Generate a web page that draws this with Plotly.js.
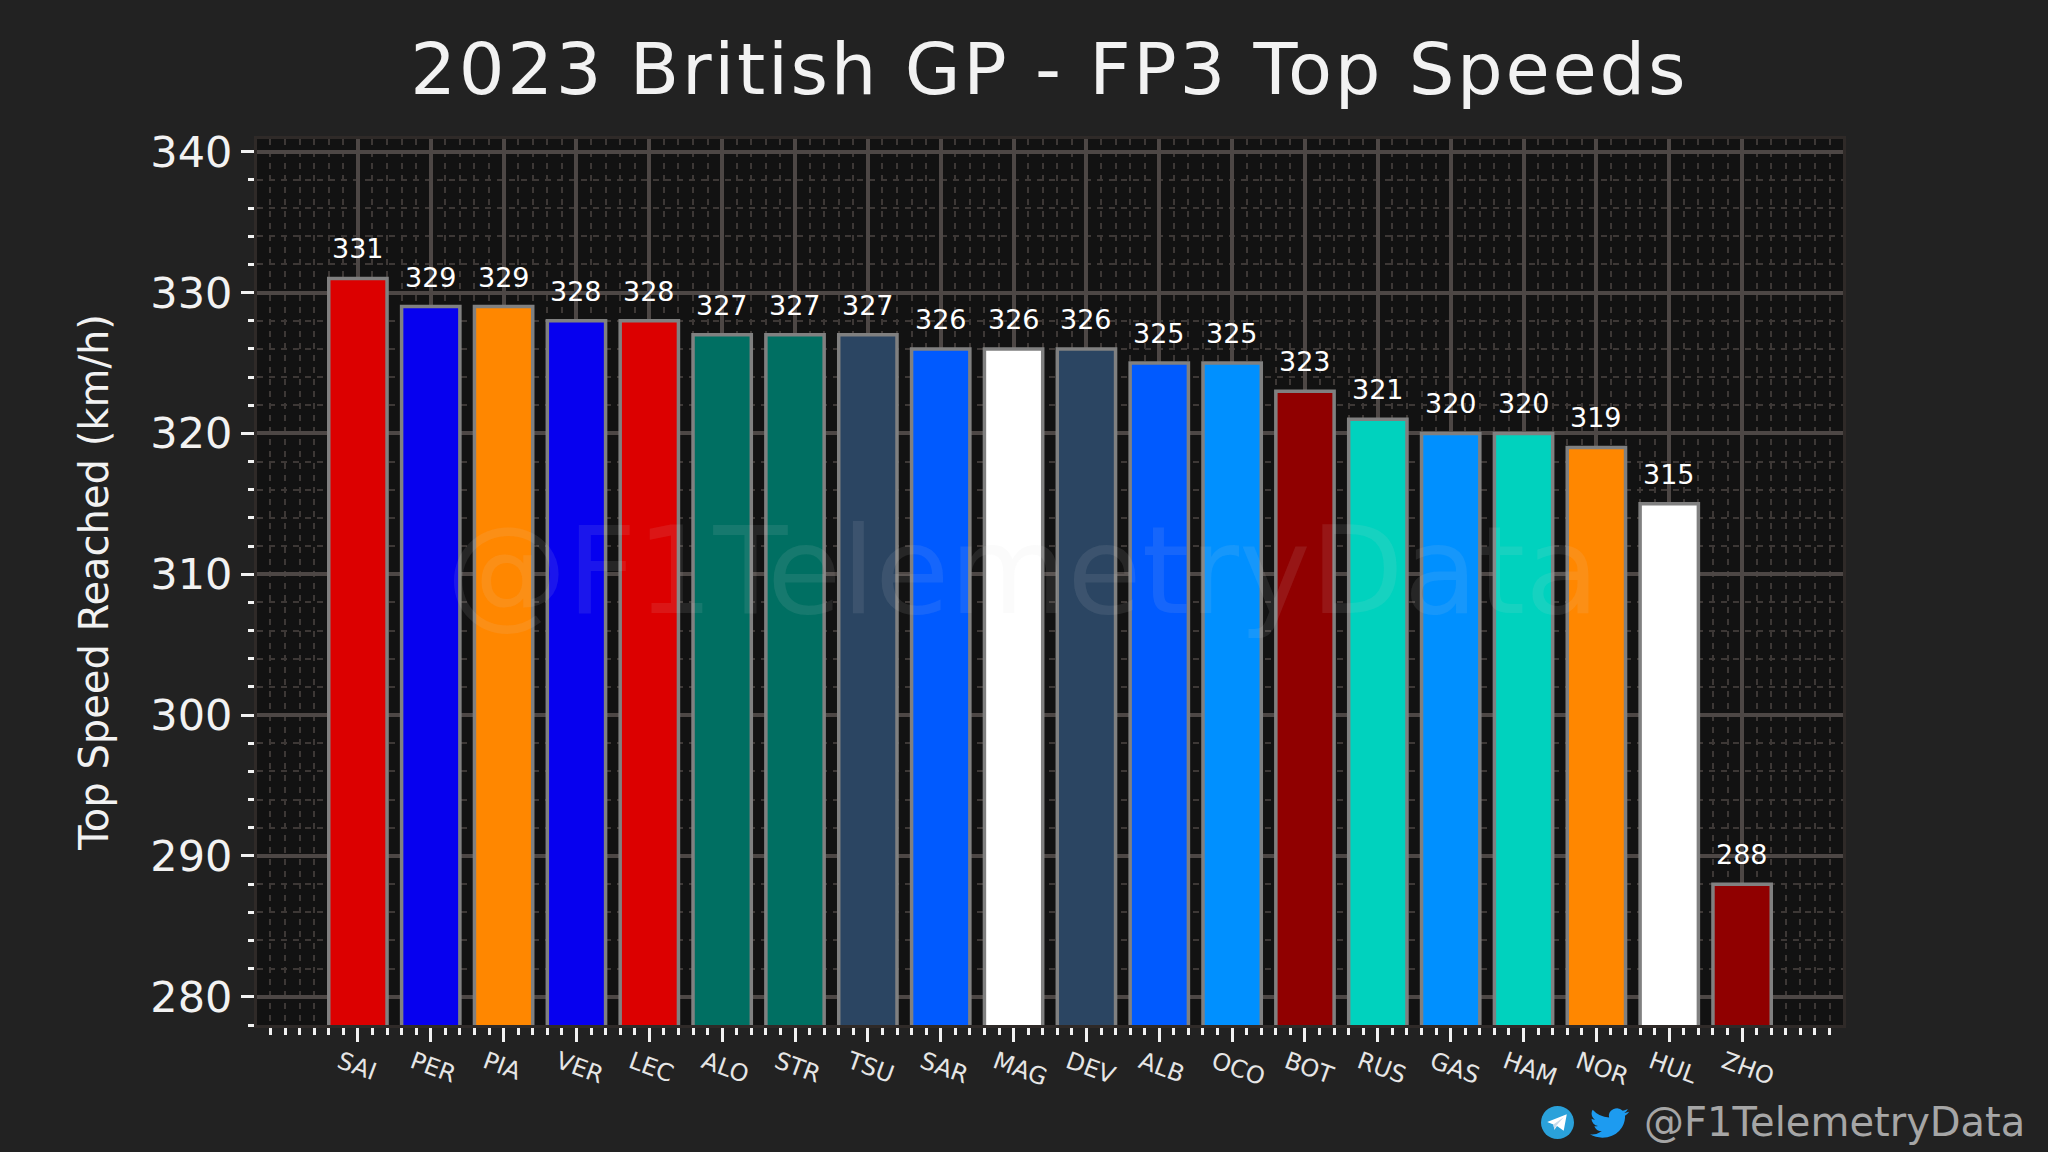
<!DOCTYPE html>
<html>
<head>
<meta charset="utf-8">
<script src="https://cdn.plot.ly/plotly-3.0.1.min.js"></script>
<style>
  html, body { margin: 0; padding: 0; background: #222222; }
  /* the original title font is much wider than anything installed */
  .gtitle { letter-spacing: 2.7px; }
</style>
</head>
<body>
<div id="chart" style="width:2048px;height:1152px;"></div>
<script>
// top speeds
const drivers = ["SAI", "PER", "PIA", "VER", "LEC", "ALO", "STR", "TSU", "SAR", "MAG", "DEV", "ALB", "OCO", "BOT", "RUS", "GAS", "HAM", "NOR", "HUL", "ZHO"];
const speeds = [331, 329, 329, 328, 328, 327, 327, 327, 326, 326, 326, 325, 325, 323, 321, 320, 320, 319, 315, 288];
const teamColors = ["#dc0000", "#0600ef", "#ff8700", "#0600ef", "#dc0000", "#006f62", "#006f62", "#2b4562", "#005aff", "#ffffff",
                    "#2b4562", "#005aff", "#0090ff", "#900000", "#00d2be", "#0090ff", "#00d2be", "#ff8700", "#ffffff", "#900000"];
const positions = drivers.map((d, i) => i);
const yTicks = [280, 290, 300, 310, 320, 330, 340];

const fontName = "DejaVu Sans";

// small logos bottom right
const telegramIcon = "data:image/svg+xml;utf8," + encodeURIComponent(
  '<svg xmlns="http://www.w3.org/2000/svg" viewBox="0 0 32 32">' +
  '<circle cx="16" cy="16" r="16" fill="#2aa1da"/>' +
  '<path d="M6 15.5 L25 8 L22 24 L15.5 19.5 L13 23 L12 18 Z" fill="#ffffff"/>' +
  '<path d="M12 18 L22 11 L15 19 L13 23 Z" fill="#c8daea"/></svg>');
const twitterIcon = "data:image/svg+xml;utf8," + encodeURIComponent(
  '<svg xmlns="http://www.w3.org/2000/svg" viewBox="0 0 24 24"><path fill="#1d9bf0" d="M23.95 4.57a10 10 0 0 1-2.83.78 4.96 4.96 0 0 0 2.17-2.72 9.9 9.9 0 0 1-3.13 1.19 4.92 4.92 0 0 0-8.38 4.48A13.98 13.98 0 0 1 1.64 3.16a4.82 4.82 0 0 0-.67 2.48 4.92 4.92 0 0 0 2.19 4.1 4.9 4.9 0 0 1-2.23-.62v.06a4.92 4.92 0 0 0 3.95 4.83 5 5 0 0 1-2.21.08 4.94 4.94 0 0 0 4.6 3.42A9.87 9.87 0 0 1 0 19.54a14 14 0 0 0 7.56 2.21c9.05 0 14-7.5 14-13.98 0-.21 0-.42-.02-.63a9.94 9.94 0 0 0 2.46-2.55z"/></svg>');

let data = [{
    type: "bar",
    x: positions,
    y: speeds,
    width: 0.8,
    marker: { color: teamColors, line: { color: "#808080", width: 3.5 } },
    hoverinfo: "x+y"
}];

// values above the bars
let annotations = positions.map((p, i) => ({
    x: p,
    y: speeds[i],
    xref: "x",
    yref: "y",
    text: String(speeds[i]),
    showarrow: false,
    yanchor: "bottom",
    yshift: 12,
    font: { family: fontName, size: 27, color: "#ffffff" }
}));

// watermark over the bars
annotations.push({
    xref: "paper", yref: "paper", x: 0.5, y: 0.5,
    xanchor: "center", yanchor: "middle",
    xshift: -28, yshift: 11,
    text: "@F1TelemetryData",
    showarrow: false,
    font: { family: fontName, size: 121, color: "rgba(216,216,216,0.1)" }
});
annotations.push({
    xref: "paper", yref: "paper", x: 1, y: 0,
    xanchor: "right", yanchor: "middle",
    xshift: 184, yshift: -97,
    text: "@F1TelemetryData",
    showarrow: false,
    font: { family: fontName, size: 40, color: "#a6a6a6" }
});

let layout = {
    width: 2048,
    height: 1152,
    paper_bgcolor: "#222222",
    plot_bgcolor: "#121212",
    margin: { l: 257, r: 205, t: 139, b: 127 },
    showlegend: false,
    bargap: 0.2,
    title: {
        text: "2023 British GP - FP3 Top Speeds",
        font: { family: fontName, size: 72, color: "#f2f2f2" },
        x: 0.5123,
        xanchor: "center",
        y: 0.94,
        yanchor: "middle"
    },
    xaxis: {
        range: [-1.385, 20.385],
        tickmode: "array",
        tickvals: positions,
        ticktext: drivers,
        tickangle: 20,
        ticks: "outside",
        ticklen: 14,
        tickwidth: 3,
        tickcolor: "#f2f2f2",
        tickfont: { family: fontName, size: 24, color: "#e6e6e6" },
        ticklabelstandoff: -3,
        ticklabelshift: -18,
        showline: true,
        mirror: true,
        linecolor: "#2f2a28",
        linewidth: 3,
        showgrid: true,
        gridcolor: "#4d4745",
        gridwidth: 3.5,
        zeroline: false,
        minor: {
            tick0: 0, dtick: 0.2,
            ticks: "outside", ticklen: 7, tickwidth: 3, tickcolor: "#f2f2f2",
            showgrid: true, gridcolor: "#3d3836", gridwidth: 1.6, griddash: "6px,6px"
        }
    },
    yaxis: {
        range: [278, 340.9],
        tickmode: "array",
        tickvals: yTicks,
        ticks: "outside",
        ticklen: 13,
        tickwidth: 3,
        tickcolor: "#f2f2f2",
        tickfont: { family: fontName, size: 43, color: "#f2f2f2" },
        showline: true,
        mirror: true,
        linecolor: "#2f2a28",
        linewidth: 3,
        showgrid: true,
        gridcolor: "#4d4745",
        gridwidth: 3.5,
        zeroline: false,
        title: {
            text: "Top Speed Reached (km/h)",
            font: { family: fontName, size: 40, color: "#f2f2f2" },
            standoff: 30
        },
        minor: {
            tick0: 280, dtick: 2,
            ticks: "outside", ticklen: 6, tickwidth: 2.5, tickcolor: "#f2f2f2",
            showgrid: true, gridcolor: "#3d3836", gridwidth: 1.6, griddash: "6px,6px"
        }
    },
    annotations: annotations,
    images: []
};

// logos sit outside the plot, so place them in paper units from pixel spots
const plotW = 2048 - 257 - 205;
const plotH = 1152 - 139 - 127;
layout.images.push({
    source: telegramIcon, xref: "paper", yref: "paper", xanchor: "left", yanchor: "top", sizing: "stretch",
    x: (1541 - 257) / plotW, y: (1025 - 1106) / plotH, sizex: 33 / plotW, sizey: 33 / plotH
});
layout.images.push({
    source: twitterIcon, xref: "paper", yref: "paper", xanchor: "left", yanchor: "top", sizing: "stretch",
    x: (1590 - 257) / plotW, y: (1025 - 1105) / plotH, sizex: 39 / plotW, sizey: 36 / plotH
});

Plotly.newPlot("chart", data, layout, { displayModeBar: false, responsive: false });
</script>
</body>
</html>
